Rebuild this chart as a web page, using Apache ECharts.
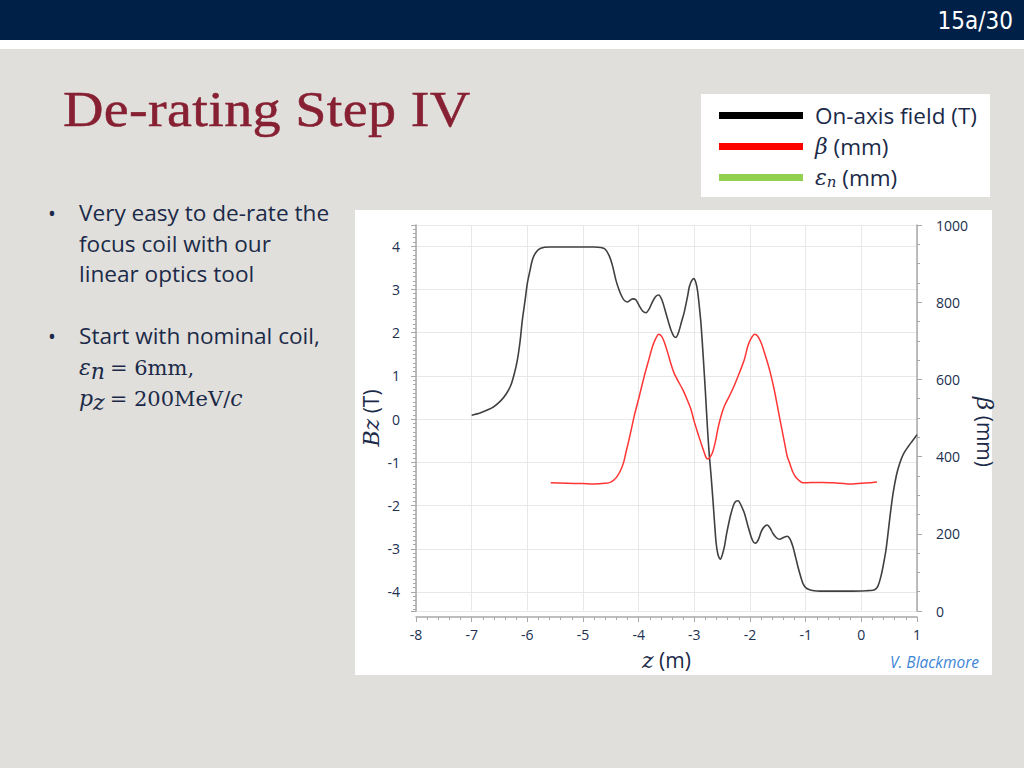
<!DOCTYPE html>
<html>
<head>
<meta charset="utf-8">
<script src="https://cdn.jsdelivr.net/npm/echarts@6/dist/echarts.min.js"></script>
<style>
  html, body { margin: 0; padding: 0; }
  body { width: 1024px; height: 768px; background: #e0dfdb; position: relative; overflow: hidden; font-family: "Open Sans", "Liberation Sans", sans-serif; }
  #hdr { position: absolute; left: 0; top: 0; width: 1024px; height: 40px; background: #002048; }
  #stripe { position: absolute; left: 0; top: 40px; width: 1024px; height: 9px; background: #ffffff; }
  #pg { position: absolute; right: 11px; top: 6px; color: #ffffff; font-family: "Liberation Sans Narrow", "DejaVu Sans Condensed", "Liberation Sans", sans-serif; font-stretch: condensed; font-size: 24px; line-height: 30px; }
  #title { position: absolute; left: 63px; top: 82px; color: #862032; font-family: "Liberation Serif", "DejaVu Serif", serif; font-size: 51px; line-height: 54px; letter-spacing: 0.3px; white-space: nowrap; transform: scaleX(1.1); transform-origin: 0 0; -webkit-text-stroke: 0.5px #862032; }
  .bul { position: absolute; left: 48px; color: #1b2a48; font-size: 22.6px; line-height: 30.5px; }
  .bul .dot { position: absolute; left: 0; top: 0; font-size: 21px; }
  .bul .txt { position: absolute; left: 31px; top: 0; white-space: nowrap; }
  .mi { font-family: "DejaVu Serif", "Liberation Serif", serif; font-style: italic; font-size: 22px; }
  .mr { font-family: "DejaVu Serif", "Liberation Serif", serif; font-size: 21px; }
  sub { font-size: 15px; vertical-align: -4px; line-height: 0; margin-right: 5px; }
  #chart { position: absolute; left: 0; top: 0; width: 1024px; height: 768px; }
</style>
</head>
<body>
<div id="hdr"></div>
<div id="stripe"></div>
<div id="pg">15a/30</div>
<div id="title">De-rating Step IV</div>
<div class="bul" style="top:198px;"><span class="dot">•</span><span class="txt">Very easy to de-rate the<br>focus coil with our<br>linear optics tool</span></div>
<div class="bul" style="top:321px;"><span class="dot">•</span><span class="txt">Start with nominal coil,<br><span class="mi">ε</span><sub class="mi">n</sub><span class="mr">= 6mm,</span><br><span class="mi">p</span><sub class="mi">z</sub><span class="mr">= 200MeV/</span><span class="mi">c</span></span></div>
<div id="chart"></div>
<script>
// ---- data ----
var seriesNames = ['On-axis field (T)', 'β (mm)', 'εn (mm)'];
var xTicksMin = -8, xTicksMax = 1;

var fieldZ = [-7.0, -6.85, -6.72, -6.6, -6.48, -6.38, -6.3, -6.24, -6.18, -6.13, -6.09, -6.04, -6.0, -5.95, -5.91, -5.85, -5.76, -5.6, -5.2, -4.8, -4.68, -4.6, -4.53, -4.47, -4.41, -4.35, -4.30, -4.26, -4.20, -4.11, -4.05, -3.99, -3.93, -3.87, -3.81, -3.75, -3.69, -3.64, -3.58, -3.51, -3.45, -3.42, -3.37, -3.33, -3.28, -3.23, -3.18, -3.12, -3.09, -3.05, -3.01, -2.97, -2.94, -2.91, -2.88, -2.84, -2.80, -2.76, -2.73, -2.70, -2.67, -2.64, -2.61, -2.58, -2.55, -2.53, -2.50, -2.46, -2.42, -2.37, -2.34, -2.29, -2.25, -2.21, -2.17, -2.10, -2.04, -1.98, -1.94, -1.90, -1.85, -1.80, -1.75, -1.69, -1.64, -1.59, -1.53, -1.47, -1.40, -1.33, -1.28, -1.23, -1.18, -1.14, -1.09, -1.05, -1.00, -0.93, -0.85, -0.75, -0.5, -0.2, 0.1, 0.21, 0.26, 0.30, 0.35, 0.39, 0.44, 0.48, 0.52, 0.57, 0.63, 0.69, 0.76, 0.84, 0.92, 1.0];
var fieldB = [0.09, 0.14, 0.21, 0.29, 0.42, 0.58, 0.77, 1.02, 1.36, 1.80, 2.29, 2.75, 3.14, 3.45, 3.68, 3.85, 3.95, 3.98, 3.98, 3.98, 3.97, 3.93, 3.78, 3.55, 3.22, 2.98, 2.83, 2.75, 2.71, 2.78, 2.76, 2.62, 2.50, 2.46, 2.55, 2.72, 2.84, 2.87, 2.75, 2.45, 2.18, 2.06, 1.92, 1.89, 2.02, 2.25, 2.48, 2.85, 3.06, 3.20, 3.25, 3.15, 2.95, 2.60, 2.20, 1.44, 0.60, -0.30, -0.85, -1.30, -1.80, -2.34, -2.85, -3.11, -3.22, -3.24, -3.15, -2.95, -2.65, -2.34, -2.18, -1.97, -1.90, -1.89, -1.97, -2.18, -2.46, -2.72, -2.84, -2.87, -2.79, -2.61, -2.50, -2.45, -2.52, -2.64, -2.74, -2.78, -2.74, -2.71, -2.78, -2.95, -3.20, -3.41, -3.64, -3.80, -3.90, -3.95, -3.97, -3.98, -3.98, -3.98, -3.97, -3.96, -3.93, -3.86, -3.65, -3.41, -3.05, -2.64, -2.20, -1.72, -1.30, -1.02, -0.80, -0.64, -0.50, -0.36];

var betaZ = [-5.58, -5.3, -5.0, -4.8, -4.6, -4.5, -4.44, -4.38, -4.32, -4.27, -4.23, -4.18, -4.13, -4.08, -4.0, -3.90, -3.82, -3.75, -3.69, -3.64, -3.59, -3.54, -3.48, -3.42, -3.36, -3.27, -3.21, -3.13, -3.06, -3.00, -2.94, -2.88, -2.82, -2.79, -2.76, -2.72, -2.67, -2.62, -2.58, -2.52, -2.46, -2.37, -2.28, -2.19, -2.10, -2.04, -1.98, -1.92, -1.86, -1.80, -1.72, -1.64, -1.56, -1.50, -1.44, -1.38, -1.33, -1.29, -1.23, -1.17, -1.10, -1.05, -0.9, -0.69, -0.5, -0.3, -0.15, 0.0, 0.15, 0.28];
var betaMM = [332, 331, 330, 329, 331, 334, 340, 350, 366, 385, 410, 440, 472, 505, 550, 608, 650, 686, 707, 717, 712, 697, 670, 640, 615, 590, 574, 548, 522, 490, 462, 435, 410, 398, 394, 398, 412, 440, 470, 505, 531, 557, 585, 617, 652, 686, 706, 717, 712, 695, 660, 620, 570, 525, 480, 436, 400, 384, 360, 345, 336, 332, 333, 333, 332, 330, 329, 331, 332, 334];

var emitZ = [];
var emitMM = [];

function zip(a, b) { var out = []; for (var i = 0; i < a.length; i++) out.push([a[i], b[i]]); return out; }

var navy = '#1b2a48';
var labelColor = '#203050';
var axisGray = '#a8a8a8';
var gridGray = '#e8e8e8';
var serifItalic = { fontFamily: '"DejaVu Serif", "Liberation Serif", serif', fontStyle: 'italic', color: navy };

var chart = echarts.init(document.getElementById('chart'), null, { renderer: 'svg' });
chart.setOption({
  animation: false,
  graphic: [
    { type: 'rect', z: -10, shape: { x: 355, y: 210, width: 637, height: 465 }, style: { fill: '#ffffff' } },
    { type: 'rect', z: -10, shape: { x: 701, y: 94, width: 289, height: 103 }, style: { fill: '#ffffff' } },
    { type: 'text', x: 979, y: 662, style: { text: 'V. Blackmore', fill: '#3d85d6', font: 'italic 15.5px "Open Sans", "Liberation Sans", sans-serif', align: 'right', verticalAlign: 'middle' } }
  ],
  legend: {
    orient: 'vertical',
    left: 714,
    top: 99,
    icon: 'rect',
    itemWidth: 84,
    itemHeight: 7,
    itemGap: 8,
    selectedMode: false,
    data: seriesNames,
    formatter: function (name) {
      if (name === 'β (mm)') return '{m|β} (mm)';
      if (name === 'εn (mm)') return '{m|ε}{s|n} (mm)';
      return name;
    },
    textStyle: {
      color: navy,
      fontFamily: '"Open Sans", "Liberation Sans", sans-serif',
      fontSize: 22.5,
      padding: [0, 0, 0, 7],
      rich: {
        m: Object.assign({ fontSize: 22 }, serifItalic),
        s: Object.assign({ fontSize: 15, padding: [9, 0, 0, 0] }, serifItalic)
      }
    }
  },
  grid: { left: 416, right: 107, top: 225, bottom: 157, containLabel: false },
  xAxis: {
    type: 'value',
    min: xTicksMin,
    max: xTicksMax,
    interval: 1,
    offset: 6,
    name: '{i|z} (m)',
    nameLocation: 'middle',
    nameGap: 32,
    nameTextStyle: { color: navy, fontSize: 21, fontFamily: '"Open Sans", sans-serif',
      rich: { i: Object.assign({ fontSize: 22 }, serifItalic) } },
    axisLine: { show: true, onZero: false, lineStyle: { color: axisGray, width: 1.5 } },
    axisTick: { show: true, length: 5, lineStyle: { color: axisGray } },
    minorTick: { show: true, splitNumber: 5, length: 3, lineStyle: { color: axisGray } },
    axisLabel: { color: labelColor, fontSize: 14, margin: 10, fontFamily: '"Open Sans", sans-serif' },
    splitLine: { show: true, lineStyle: { color: gridGray } }
  },
  yAxis: [
    {
      type: 'value',
      position: 'left',
      min: -4.44,
      max: 4.49,
      splitNumber: 9,
      maxInterval: 1,
      minInterval: 1,
      name: '{i|Bz} (T)',
      nameLocation: 'middle',
      nameRotate: 90,
      nameGap: 34,
      nameTextStyle: { color: navy, fontSize: 21, fontFamily: '"Open Sans", sans-serif',
        rich: { i: Object.assign({ fontSize: 22 }, serifItalic) } },
      axisLine: { show: true, onZero: false, lineStyle: { color: axisGray, width: 1.5 } },
      axisTick: { show: true, length: 5, lineStyle: { color: axisGray } },
      minorTick: { show: true, splitNumber: 10, length: 3, lineStyle: { color: axisGray } },
      axisLabel: { color: labelColor, fontSize: 14, margin: 16, fontFamily: '"Open Sans", sans-serif', showMinLabel: false, showMaxLabel: false },
      splitLine: { show: true, lineStyle: { color: gridGray } }
    },
    {
      type: 'value',
      position: 'right',
      min: 0,
      max: 1000,
      interval: 200,
      name: '{i|β} (mm)',
      nameLocation: 'middle',
      nameRotate: -90,
      nameGap: 56,
      nameTextStyle: { color: navy, fontSize: 21, fontFamily: '"Open Sans", sans-serif', padding: [0, 0, 0, 28],
        rich: { i: Object.assign({ fontSize: 23 }, serifItalic) } },
      axisLine: { show: true, onZero: false, lineStyle: { color: axisGray, width: 1.5 } },
      axisTick: { show: true, length: 5, lineStyle: { color: axisGray } },
      minorTick: { show: true, splitNumber: 4, length: 3, lineStyle: { color: axisGray } },
      axisLabel: { color: labelColor, fontSize: 14, margin: 19, fontFamily: '"Open Sans", sans-serif',
        formatter: function (v) { return String(v); } },
      splitLine: { show: false }
    }
  ],
  series: [
    {
      name: seriesNames[0], type: 'line', yAxisIndex: 0, data: zip(fieldZ, fieldB),
      showSymbol: false, smooth: 0.25, color: '#000000',
      lineStyle: { color: '#404040', width: 1.6 }
    },
    {
      name: seriesNames[1], type: 'line', yAxisIndex: 1, data: zip(betaZ, betaMM),
      showSymbol: false, smooth: 0.25, color: '#ff0000',
      lineStyle: { color: '#ff3535', width: 1.5 }
    },
    {
      name: seriesNames[2], type: 'line', yAxisIndex: 1, data: zip(emitZ, emitMM),
      showSymbol: false, color: '#92d050',
      lineStyle: { color: '#92d050', width: 1.5 }
    }
  ]
});
</script>
</body>
</html>
